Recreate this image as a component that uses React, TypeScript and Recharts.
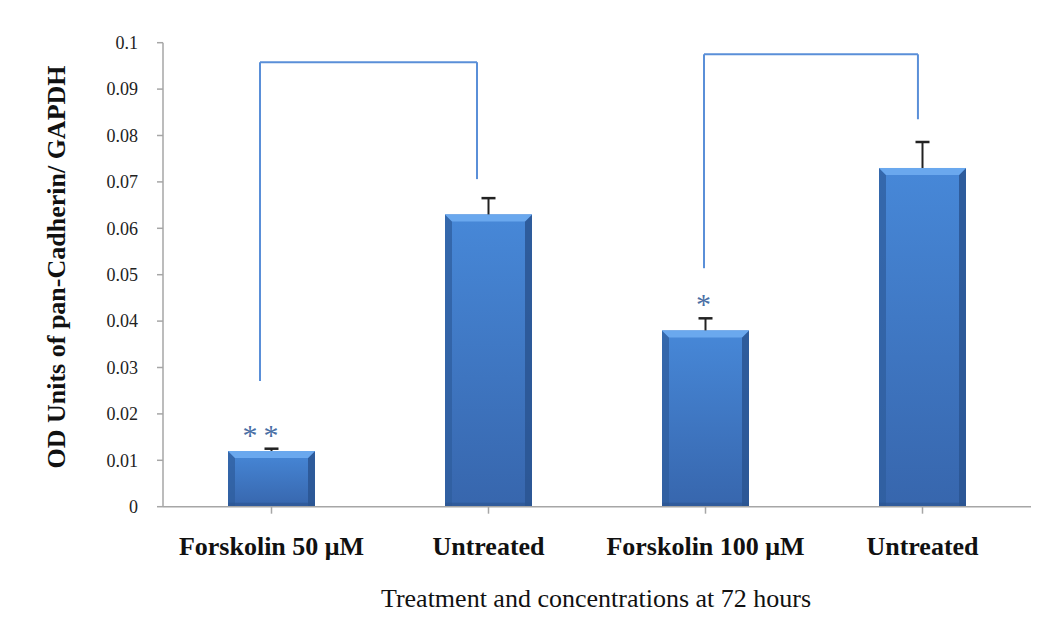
import React from 'react';
import { ComposedChart, Bar, XAxis, YAxis, ReferenceLine, Label } from 'recharts';

const categories = ['Forskolin 50 μM', 'Untreated', 'Forskolin 100 μM', 'Untreated '];
const values = [0.012, 0.063, 0.038, 0.073];
const errors = [0.0005, 0.0035, 0.0026, 0.0056];
const significance = ['**', '', '*', ''];
const positions = [0.5, 1.5, 2.5, 3.5];
const yTicks = [0, 0.01, 0.02, 0.03, 0.04, 0.05, 0.06, 0.07, 0.08, 0.09, 0.1];
const yTickLabels = ['0', '0.01', '0.02', '0.03', '0.04', '0.05', '0.06', '0.07', '0.08', '0.09', '0.1'];

// brackets: [xLeft, xRight] on a 0..4 category-position scale, y values of left leg bottom, top, right leg bottom
const bracketX = [[0.447, 1.447], [2.493, 3.479]];
const bracketYLeft = [0.0271, 0.0514];
const bracketYTop = [0.0958, 0.0975];
const bracketYRight = [0.0706, 0.0835];

const data = categories.map((c, i) => ({ name: c, pos: positions[i], value: values[i], err: errors[i], sig: significance[i] }));

const serif = '"Liberation Serif", "Times New Roman", serif';
const axisColor = '#a6a6a6';
const bracketColor = '#5a8fd8';

const BarShape = (props: any) => {
  const { x, y, width, height, payload } = props;
  if (!height || height <= 0) return null;
  const k = height / payload.value;
  const errTop = y - payload.err * k;
  const cx = x + width / 2;
  const b = 7;
  const double = payload.sig && payload.sig.length > 1;
  return (
    <g>
      <rect x={x} y={y} width={width} height={height} fill="url(#barGrad)" />
      <polygon points={`${x},${y} ${x + b},${y + b} ${x + b},${y + height} ${x},${y + height}`} fill="#2f5e9e" opacity={0.75} />
      <polygon points={`${x + width},${y} ${x + width - b},${y + b} ${x + width - b},${y + height} ${x + width},${y + height}`} fill="#2a5592" opacity={0.85} />
      <polygon points={`${x},${y} ${x + width},${y} ${x + width - b},${y + b} ${x + b},${y + b}`} fill="#6aa8ee" />
      <rect x={x} y={y + height - 4} width={width} height={4} fill="#2b5490" opacity={0.6} />
      <line x1={cx} y1={y} x2={cx} y2={errTop} stroke="#222" strokeWidth={2} />
      <line x1={cx - 7} y1={errTop} x2={cx + 7} y2={errTop} stroke="#222" strokeWidth={2.5} />
      {payload.sig ? (
        <text
          x={double ? cx - 8 : cx - 2}
          y={errTop - 4}
          textAnchor="middle"
          fontFamily={serif}
          fontSize={30}
          fill="#4a6fa5"
          letterSpacing={double ? 6 : 0}
        >
          {payload.sig}
        </text>
      ) : null}
    </g>
  );
};

const YAxisTitle = () => (
  <text
    x={48}
    y={259}
    transform="rotate(-90, 48, 259)"
    textAnchor="middle"
    dominantBaseline="central"
    fontFamily={serif}
    fontWeight="bold"
    fontSize={26}
    fill="#111"
  >
    OD Units of pan-Cadherin/ GAPDH
  </text>
);

const XAxisTitle = () => (
  <text x={588} y={599} textAnchor="middle" fontFamily={serif} fontSize={26} fill="#111">
    Treatment and concentrations at 72 hours
  </text>
);

export default function App() {
  return (
    <ComposedChart width={1036} height={622} data={data} margin={{ top: 34.7, right: 13, bottom: 0, left: 0 }}>
      <defs>
        <linearGradient id="barGrad" x1="0" y1="0" x2="0" y2="1">
          <stop offset="0%" stopColor="#4788d8" />
          <stop offset="100%" stopColor="#3766ad" />
        </linearGradient>
      </defs>
      <XAxis
        dataKey="name"
        height={123.3}
        stroke={axisColor}
        strokeWidth={1.5}
        tickSize={7}
        tickLine={{ stroke: axisColor }}
        tick={{ fill: '#111', fontFamily: serif, fontWeight: 'bold', fontSize: 26 }}
        tickMargin={23}
        interval={0}
      >
        <Label content={<XAxisTitle />} />
      </XAxis>
      <XAxis xAxisId="num" dataKey="pos" type="number" domain={[0, 4]} allowDataOverflow hide />
      <YAxis
        width={155}
        domain={[0, 0.1]}
        ticks={yTicks}
        tickFormatter={(v: number) => yTickLabels[yTicks.indexOf(v)] ?? String(v)}
        stroke={axisColor}
        strokeWidth={1.5}
        tickSize={6}
        tickMargin={19}
        tick={{ fill: '#222', fontFamily: serif, fontSize: 18 }}
        interval={0}
      >
        <Label content={<YAxisTitle />} />
      </YAxis>
      <Bar dataKey="value" barSize={87} isAnimationActive={false} shape={<BarShape />} />
      {bracketX.map((bx, i) => (
        <ReferenceLine
          key={`l${i}`}
          xAxisId="num"
          segment={[{ x: bx[0], y: bracketYLeft[i] }, { x: bx[0], y: bracketYTop[i] }]}
          stroke={bracketColor}
          strokeWidth={2}
          ifOverflow="visible"
        />
      ))}
      {bracketX.map((bx, i) => (
        <ReferenceLine
          key={`t${i}`}
          xAxisId="num"
          segment={[{ x: bx[0], y: bracketYTop[i] }, { x: bx[1], y: bracketYTop[i] }]}
          stroke={bracketColor}
          strokeWidth={2}
          ifOverflow="visible"
        />
      ))}
      {bracketX.map((bx, i) => (
        <ReferenceLine
          key={`r${i}`}
          xAxisId="num"
          segment={[{ x: bx[1], y: bracketYTop[i] }, { x: bx[1], y: bracketYRight[i] }]}
          stroke={bracketColor}
          strokeWidth={2}
          ifOverflow="visible"
        />
      ))}
    </ComposedChart>
  );
}
